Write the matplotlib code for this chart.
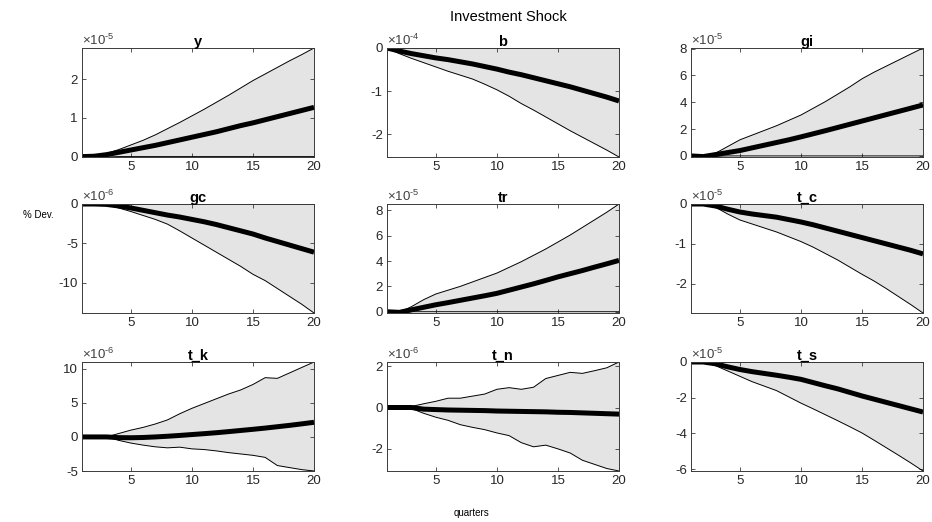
import matplotlib
matplotlib.use("Agg")
import matplotlib.pyplot as plt
import numpy as np

plt.rcParams['font.family'] = ['Liberation Sans', 'DejaVu Sans']
plt.rcParams['mathtext.fontset'] = 'custom'
plt.rcParams['mathtext.rm'] = 'Liberation Sans'
plt.rcParams['mathtext.it'] = 'Liberation Sans:italic'
plt.rcParams['mathtext.bf'] = 'Liberation Sans:bold'
plt.rcParams['axes.unicode_minus'] = False

quarters = np.arange(1, 21)

names = ['y', 'b', 'gi', 'gc', 'tr', 't_c', 't_k', 't_n', 't_s']
exponents = [-5, -4, -5, -6, -5, -5, -6, -6, -5]

# Median responses and bands (in units of 10^exponent)
y_mid = [0, 0.01, 0.05, 0.11, 0.17, 0.23, 0.29, 0.36, 0.43, 0.50, 0.57, 0.64, 0.72, 0.80, 0.87, 0.95, 1.03, 1.11, 1.19, 1.27]
y_hi = [0, 0.01, 0.08, 0.18, 0.30, 0.42, 0.56, 0.72, 0.88, 1.05, 1.22, 1.40, 1.58, 1.77, 1.96, 2.13, 2.30, 2.47, 2.63, 2.80]
y_lo = [0, -0.01, -0.01, 0, 0, 0, 0, 0, 0, 0, 0, 0, 0, 0, 0, 0, 0, 0, 0, 0]

b_mid = [0, -0.07, -0.13, -0.18, -0.23, -0.27, -0.32, -0.37, -0.43, -0.49, -0.56, -0.62, -0.69, -0.76, -0.83, -0.90, -0.98, -1.06, -1.14, -1.23]
b_hi = [0, 0, 0, 0, 0, 0, 0, 0, 0, 0, 0, 0, 0, 0, 0, 0, 0, 0, 0, 0]
b_lo = [0, -0.13, -0.24, -0.34, -0.44, -0.54, -0.63, -0.72, -0.84, -0.97, -1.12, -1.29, -1.44, -1.60, -1.76, -1.92, -2.07, -2.22, -2.37, -2.53]

gi_mid = [0, -0.05, 0.10, 0.25, 0.40, 0.60, 0.80, 1.00, 1.20, 1.42, 1.65, 1.88, 2.12, 2.36, 2.60, 2.84, 3.08, 3.32, 3.56, 3.80]
gi_hi = [0, -0.05, 0.20, 0.70, 1.20, 1.55, 1.90, 2.25, 2.65, 3.05, 3.55, 4.05, 4.60, 5.15, 5.75, 6.25, 6.70, 7.15, 7.60, 8.05]
gi_lo = [0, -0.08, -0.02, 0, 0, 0, 0, 0, 0, 0, 0, 0, 0, 0, 0, 0, 0, 0, 0, 0]

gc_mid = [0, 0, -0.05, -0.25, -0.50, -0.80, -1.10, -1.40, -1.65, -1.95, -2.25, -2.60, -3.00, -3.40, -3.80, -4.30, -4.75, -5.20, -5.65, -6.10]
gc_hi = [0, 0, 0, 0, 0, 0, 0, 0, 0, 0, 0, 0, 0, 0, 0, 0, 0, 0, 0, 0]
gc_lo = [0, 0, -0.10, -0.50, -0.95, -1.45, -1.95, -2.55, -3.40, -4.30, -5.20, -6.10, -7.00, -7.90, -8.90, -9.70, -10.70, -11.70, -12.70, -13.80]

tr_mid = [0, -0.05, 0.15, 0.35, 0.55, 0.72, 0.90, 1.08, 1.26, 1.45, 1.70, 1.95, 2.20, 2.47, 2.75, 3.00, 3.25, 3.52, 3.78, 4.05]
tr_hi = [0, -0.05, 0.40, 0.95, 1.40, 1.70, 2.00, 2.35, 2.70, 3.05, 3.50, 3.95, 4.45, 4.95, 5.50, 6.05, 6.65, 7.25, 7.85, 8.50]
tr_lo = [0, -0.10, 0, 0, 0, 0, 0, 0, 0, 0, 0, 0, 0, 0, 0, 0, 0, 0, 0, 0]

tc_mid = [0, 0, -0.05, -0.13, -0.20, -0.25, -0.29, -0.33, -0.39, -0.45, -0.52, -0.60, -0.68, -0.76, -0.84, -0.92, -1.00, -1.08, -1.16, -1.25]
tc_hi = [0, 0, 0, 0, 0, 0, 0, 0, 0, 0, 0, 0, 0, 0, 0, 0, 0, 0, 0, 0]
tc_lo = [0, 0, -0.08, -0.25, -0.40, -0.50, -0.60, -0.70, -0.82, -0.94, -1.08, -1.24, -1.40, -1.58, -1.76, -1.93, -2.12, -2.32, -2.52, -2.73]

tk_mid = [0, 0, 0, -0.10, -0.12, -0.08, 0.0, 0.10, 0.22, 0.35, 0.48, 0.62, 0.78, 0.95, 1.12, 1.30, 1.50, 1.70, 1.92, 2.15]
tk_hi = [0, 0, 0, 0.50, 1.00, 1.40, 1.90, 2.50, 3.40, 4.20, 4.90, 5.60, 6.30, 6.90, 7.70, 8.70, 8.60, 9.40, 10.20, 11.00]
tk_lo = [0, 0, 0, -0.50, -0.90, -1.20, -1.45, -1.60, -1.50, -1.75, -1.85, -2.05, -2.30, -2.50, -2.70, -3.00, -4.20, -4.50, -4.80, -5.00]

tn_mid = [0, 0, 0, -0.08, -0.10, -0.12, -0.13, -0.14, -0.15, -0.17, -0.18, -0.19, -0.20, -0.21, -0.23, -0.24, -0.26, -0.28, -0.30, -0.32]
tn_hi = [0, 0, 0.05, 0.18, 0.30, 0.45, 0.45, 0.55, 0.65, 0.88, 0.96, 0.88, 0.98, 1.40, 1.55, 1.70, 1.65, 1.78, 1.92, 2.20]
tn_lo = [0, 0, -0.05, -0.28, -0.47, -0.62, -0.83, -0.96, -1.07, -1.23, -1.36, -1.70, -1.90, -1.82, -2.00, -2.20, -2.55, -2.75, -2.95, -3.07]

ts_mid = [0, 0, -0.10, -0.27, -0.42, -0.54, -0.64, -0.74, -0.85, -0.97, -1.15, -1.33, -1.50, -1.70, -1.90, -2.08, -2.26, -2.44, -2.62, -2.80]
ts_hi = [0, 0, 0, 0, 0, 0, 0, 0, 0, 0, 0, 0, 0, 0, 0, 0, 0, 0, 0, 0]
ts_lo = [0, 0, -0.20, -0.50, -0.80, -1.10, -1.35, -1.60, -1.95, -2.30, -2.62, -2.95, -3.28, -3.62, -3.97, -4.38, -4.80, -5.22, -5.65, -6.10]

medians = [y_mid, b_mid, gi_mid, gc_mid, tr_mid, tc_mid, tk_mid, tn_mid, ts_mid]
uppers = [y_hi, b_hi, gi_hi, gc_hi, tr_hi, tc_hi, tk_hi, tn_hi, ts_hi]
lowers = [y_lo, b_lo, gi_lo, gc_lo, tr_lo, tc_lo, tk_lo, tn_lo, ts_lo]

yticks = [[0, 1, 2], [-2, -1, 0], [0, 2, 4, 6, 8],
          [-10, -5, 0], [0, 2, 4, 6, 8], [-2, -1, 0],
          [-5, 0, 5, 10], [-2, 0, 2], [-6, -4, -2, 0]]
xticks = [5, 10, 15, 20]

W, H = 932, 522
fig = plt.figure(figsize=(W / 100, H / 100), dpi=100)

col_left = [82, 387, 691]
row_top = [48, 204, 362]
ax_w = 232
ax_h = 109
axis_color = '#3a3a3a'

for i, name in enumerate(names):
    r, c = divmod(i, 3)
    left = col_left[c] / W
    bottom = 1 - (row_top[r] + ax_h) / H
    ax = fig.add_axes([left, bottom, ax_w / W, ax_h / H])
    lo = np.array(lowers[i])
    hi = np.array(uppers[i])
    mid = np.array(medians[i])
    ax.fill_between(quarters, lo, hi, facecolor='#e4e4e4', edgecolor='none')
    ax.plot(quarters, hi, color='black', lw=0.7)
    ax.plot(quarters, lo, color='black', lw=0.7)
    ax.plot(quarters, mid, color='black', lw=3.6, solid_capstyle='butt')
    ax.set_xlim(1, 20)
    ax.set_ylim(min(lo.min(), mid.min()), max(hi.max(), mid.max()))
    ax.set_xticks(xticks)
    ax.set_yticks(yticks[i])
    ax.tick_params(direction='in', length=3, width=0.6, top=True, right=True,
                   labelsize=9.5, colors=axis_color, labelcolor='#262626', pad=3)
    for sp in ax.spines.values():
        sp.set_color(axis_color)
        sp.set_linewidth(0.7)
    ax.set_title(name, fontsize=10.5, fontweight='bold', pad=1.5)
    ax.text(0.0, 1.0, r'$\times10^{\text{%d}}$' % exponents[i], transform=ax.transAxes,
            fontsize=9.5, color='#404040', ha='left', va='bottom')

fig.text(508 / W, 1 - 17 / H, 'Investment Shock', ha='center', va='center', fontsize=10.5)
fig.text(38 / W, 1 - 215 / H, '% Dev.', ha='center', va='center', fontsize=7)
fig.text(472 / W, 1 - 513 / H, 'quarters', ha='center', va='center', fontsize=7)

fig.savefig('out.png', dpi=100)
